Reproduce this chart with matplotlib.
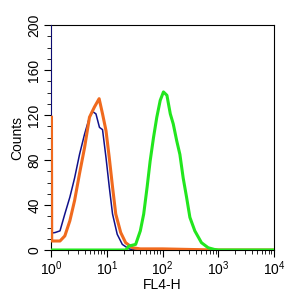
import matplotlib
matplotlib.use('Agg')
import matplotlib.pyplot as plt
import numpy as np

plt.rcParams['font.family'] = ['Liberation Sans', 'DejaVu Sans']
plt.rcParams['mathtext.fontset'] = 'custom'
plt.rcParams['mathtext.rm'] = 'Liberation Sans'
plt.rcParams['mathtext.it'] = 'Liberation Sans'

# isotype / unstained control (blue)
blue_x = [1.0, 1.01, 1.18, 1.45, 1.77, 2.18, 2.65, 3.25, 4.0, 4.9, 5.6, 6.4, 7.4, 8.4,
          9.7, 11.1, 12.7, 15.4, 19.0, 25.0, 32.0, 10000]
blue_y = [250, 15, 15.5, 17, 32, 47, 64, 85, 103, 118, 123, 121, 109, 107,
          82, 56, 32, 14, 5, 1, 0, 0]

# second control (orange)
orange_x = [1.02, 1.03, 1.2, 1.45, 1.77, 2.18, 2.65, 3.25, 4.0, 4.9, 6.0, 7.3, 8.4, 9.7,
            11.1, 12.7, 14.5, 17.8, 21.8, 29.0, 40.0, 100.0, 300.0, 1000.0, 10000]
orange_y = [118, 8, 8, 8, 12.5, 26, 44, 68, 91, 118, 127, 134.5, 121, 106,
            82, 56, 32, 15.5, 6.5, 2, 1, 1, 0.5, 0, 0]

# stained sample (green)
green_x = [1.0, 22.0, 25.0, 33.0, 40.0, 46.0, 53.0, 60.0, 69.0, 79.0, 91.0, 104.0, 120.0,
           138.0, 156.0, 180.0, 205.0, 235.0, 270.0, 310.0, 380.0, 500.0, 660.0, 850.0,
           1000.0, 10000]
green_y = [0, 0, 3.5, 5, 17, 32, 56, 79, 100, 118, 133, 140.5, 137.5,
           121, 112, 97, 85, 64, 47, 29, 17, 6.5, 2, 0.5, 0, 0]

fig = plt.figure(figsize=(2.95, 3.03), dpi=100)
ax = fig.add_axes([51/295, 1-250/303, 223/295, 225/303])

ax.plot(blue_x, blue_y, color='#10108a', lw=1.1, zorder=3)
ax.plot(orange_x, orange_y, color='#f06a1e', lw=2.2, zorder=3)
ax.plot(green_x, green_y, color='#22e61e', lw=2.2, zorder=3)

ax.set_xscale('log')
ax.set_xlim(1, 10000)
ax.set_ylim(0, 200)
ax.set_yticks([0, 40, 80, 120, 160, 200])
ax.set_yticks(np.arange(0, 201, 10), minor=True)
ax.set_xticks([1, 10, 100, 1000, 10000])
ax.set_xticklabels(['$10^{0}$', '$10^{1}$', '$10^{2}$', '$10^{3}$', '$10^{4}$'])
for lab in ax.get_yticklabels():
    lab.set_rotation(90)
    lab.set_va('center')

ax.tick_params(which='major', length=5, width=0.8, labelsize=10, direction='out')
ax.tick_params(which='minor', length=3, width=0.6, direction='out')
ax.tick_params(axis='y', pad=2)
ax.tick_params(axis='x', pad=2)
ax.set_xlabel('FL4-H', fontsize=10, labelpad=0)
ax.set_ylabel('Counts', fontsize=10, labelpad=2)

plt.savefig('out.png', dpi=100)
plt.close()
